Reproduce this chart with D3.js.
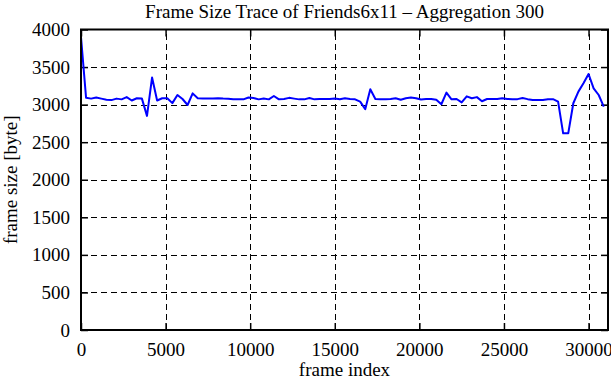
<!DOCTYPE html>
<html>
<head>
<meta charset="utf-8">
<script src="https://cdn.jsdelivr.net/npm/d3@7"></script>
<style>
  html, body { margin: 0; padding: 0; background: #fff; }
  svg { display: block; font-family: "Liberation Serif", "DejaVu Serif", serif; }
</style>
</head>
<body>
<svg id="chart" width="611" height="380"></svg>
<script>
const title = "Frame Size Trace of Friends6x11 \u2013 Aggregation 300";
const xLabel = "frame index";
const yLabel = "frame size [byte]";

const xTicks = [0, 5000, 10000, 15000, 20000, 25000, 30000];
const yTicks = [0, 500, 1000, 1500, 2000, 2500, 3000, 3500, 4000];
const xMax = 31150;
const yMax = 4000;

// frame index of each aggregated point (every 300 frames)
const frameIndex = [
  0, 300, 600, 900, 1200, 1500, 1800, 2100, 2400, 2700,
  3000, 3300, 3600, 3900, 4200, 4500, 4800, 5100, 5400, 5700,
  6000, 6300, 6600, 6900, 7200, 7500, 7800, 8100, 8400, 8700,
  9000, 9300, 9600, 9900, 10200, 10500, 10800, 11100, 11400, 11700,
  12000, 12300, 12600, 12900, 13200, 13500, 13800, 14100, 14400, 14700,
  15000, 15300, 15600, 15900, 16200, 16500, 16800, 17100, 17400, 17700,
  18000, 18300, 18600, 18900, 19200, 19500, 19800, 20100, 20400, 20700,
  21000, 21300, 21600, 21900, 22200, 22500, 22800, 23100, 23400, 23700,
  24000, 24300, 24600, 24900, 25200, 25500, 25800, 26100, 26400, 26700,
  27000, 27300, 27600, 27900, 28200, 28500, 28800, 29100, 29400, 29700,
  30000, 30300, 30600, 30900
];
const frameSize = [
  3900, 3090, 3080, 3095, 3080, 3065, 3060, 3080, 3070, 3100,
  3055, 3085, 3080, 2850, 3360, 3055, 3085, 3085, 3020, 3128,
  3075, 2995, 3150, 3085, 3080, 3080, 3080, 3085, 3080, 3078,
  3070, 3070, 3070, 3095, 3088, 3070, 3082, 3070, 3115, 3070,
  3075, 3090, 3080, 3070, 3070, 3088, 3070, 3075, 3075, 3075,
  3080, 3072, 3085, 3075, 3070, 3040, 2940, 3205, 3075, 3070,
  3070, 3075, 3085, 3065, 3085, 3095, 3085, 3068, 3075, 3075,
  3065, 3005, 3160, 3070, 3075, 3030, 3110, 3085, 3100, 3045,
  3075, 3075, 3075, 3085, 3075, 3073, 3073, 3088, 3073, 3062,
  3062, 3062, 3073, 3073, 3040, 2618, 2618, 3018, 3173, 3284,
  3408, 3217, 3128, 2973
];

const W = 611, H = 380;
const m = { left: 81, right: 3, top: 29.5, bottom: 50 };
const svg = d3.select("#chart");

const x = d3.scaleLinear().domain([0, xMax]).range([m.left, W - m.right]);
const y = d3.scaleLinear().domain([0, yMax]).range([H - m.bottom, m.top]);

const x0 = x.range()[0], x1 = x.range()[1];
const y0 = y.range()[0], y1 = y.range()[1];

// grid
const grid = svg.append("g").attr("stroke", "#000").attr("stroke-width", 1)
  .attr("stroke-dasharray", "6,4").attr("fill", "none");
grid.selectAll("line.gx").data(xTicks.filter(d => d > 0 && d < xMax)).join("line")
  .attr("x1", d => Math.round(x(d)) + 0.5).attr("x2", d => Math.round(x(d)) + 0.5)
  .attr("y1", y0).attr("y2", y1);
grid.selectAll("line.gy").data(yTicks.filter(d => d > 0 && d < yMax)).join("line")
  .attr("y1", d => Math.round(y(d)) + 0.5).attr("y2", d => Math.round(y(d)) + 0.5)
  .attr("x1", x0).attr("x2", x1);

// axes with inward ticks
const tickLen = 7;
const fs = 19;
const fmt = d3.format("d");
const axB = svg.append("g").attr("transform", `translate(0,${y0})`)
  .call(d3.axisBottom(x).tickValues(xTicks).tickFormat(fmt).tickSizeInner(-tickLen).tickSizeOuter(0).tickPadding(tickLen + 6));
const axT = svg.append("g").attr("transform", `translate(0,${y1})`)
  .call(d3.axisTop(x).tickValues(xTicks).tickSizeInner(-tickLen).tickSizeOuter(0).tickFormat(""));
const axL = svg.append("g").attr("transform", `translate(${x0},0)`)
  .call(d3.axisLeft(y).tickValues(yTicks).tickFormat(fmt).tickSizeInner(-tickLen).tickSizeOuter(0).tickPadding(tickLen + 4));
const axR = svg.append("g").attr("transform", `translate(${x1},0)`)
  .call(d3.axisRight(y).tickValues(yTicks).tickSizeInner(-tickLen).tickSizeOuter(0).tickFormat(""));

[axB, axT, axL, axR].forEach(a => {
  a.select(".domain").remove();
  a.selectAll(".tick line").attr("stroke", "#000").attr("stroke-width", 1.5);
  a.selectAll("text").attr("fill", "#000").style("font-size", fs + "px")
    .style("font-family", '"Liberation Serif", serif');
});
axB.selectAll("text").attr("dy", "0.71em");

// data line
const line = d3.line().x((d, i) => x(frameIndex[i])).y(d => y(d));
svg.append("path").datum(frameSize)
  .attr("d", line).attr("fill", "none").attr("stroke", "#0000ff")
  .attr("stroke-width", 2).attr("stroke-linejoin", "round");

// frame
svg.append("rect").attr("x", x0).attr("y", y1).attr("width", x1 - x0).attr("height", y0 - y1)
  .attr("fill", "none").attr("stroke", "#000").attr("stroke-width", 2);

// labels
svg.append("text").attr("x", (x0 + x1) / 2).attr("y", 18).attr("text-anchor", "middle")
  .style("font-size", fs + "px").text(title);
svg.append("text").attr("x", (x0 + x1) / 2).attr("y", 376).attr("text-anchor", "middle")
  .style("font-size", fs + "px").text(xLabel);
svg.append("text").attr("transform", `translate(17,${(y0 + y1) / 2}) rotate(-90)`)
  .attr("text-anchor", "middle").style("font-size", fs + "px").text(yLabel);
</script>
</body>
</html>
